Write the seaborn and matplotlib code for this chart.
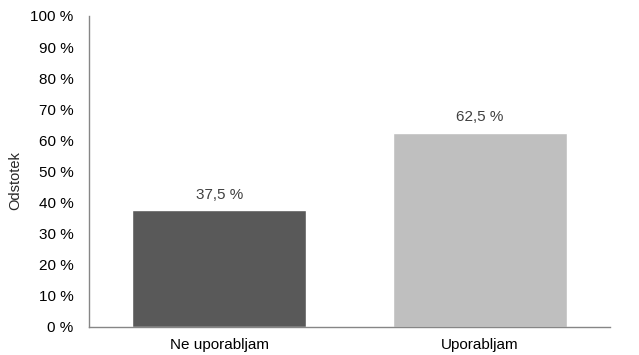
import matplotlib
matplotlib.use("Agg")
import matplotlib.pyplot as plt
import seaborn as sns
import pandas as pd

categories = ["Ne uporabljam", "Uporabljam"]
values = [37.5, 62.5]
colors = ["#595959", "#bfbfbf"]
yticks = list(range(0, 101, 10))

sns.set_style("white")
plt.rcParams['font.family'] = ['Liberation Sans', 'DejaVu Sans']

df = pd.DataFrame({"cat": categories, "val": values})
fig = plt.figure(figsize=(6.39, 3.55), dpi=100)
ax = fig.add_axes([0.139, 0.079, 0.816, 0.876])
sns.barplot(data=df, x="cat", y="val", hue="cat", palette=colors, width=0.667,
            saturation=1, legend=False, ax=ax)
ax.set_xlim(-0.5, 1.5)
ax.set_ylim(0, 100)
ax.set_yticks(yticks)
ax.set_yticklabels([f"{t} %" for t in yticks])
ax.tick_params(axis='both', length=0, labelsize=11, colors="#000000")
ax.tick_params(axis='y', pad=11)
ax.tick_params(axis='x', pad=8)
ax.set_xlabel("")
ax.set_ylabel("Odstotek", fontsize=10.5)
ax.yaxis.set_label_coords(-0.128, 0.47)
for s in ["top", "right"]:
    ax.spines[s].set_visible(False)
for s in ["left", "bottom"]:
    ax.spines[s].set_color("#868686")
    ax.spines[s].set_linewidth(1.0)
for i, v in enumerate(values):
    ax.text(i, v + 2.7, f"{v:.1f} %".replace(".", ","), ha="center", va="bottom",
            fontsize=11, color="#404040")
fig.savefig("out.png", dpi=100)
